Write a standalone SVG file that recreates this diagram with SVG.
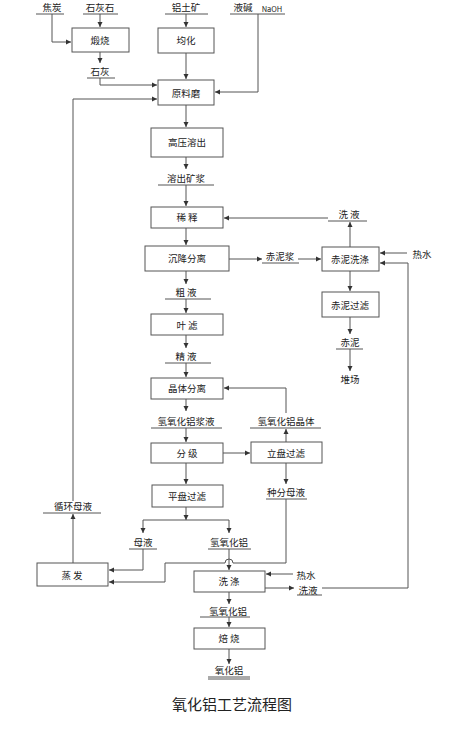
<svg xmlns="http://www.w3.org/2000/svg" width="474" height="734" viewBox="0 0 474 734">
<style>
.b{fill:#fff;stroke:#555;stroke-width:1}
.u{stroke:#555;stroke-width:1}
.c{fill:none;stroke:#555;stroke-width:1}
text{font-family:"Noto Sans CJK SC","Liberation Sans",sans-serif;font-size:9.5px;fill:#222;text-anchor:middle;dominant-baseline:central}
.t{font-size:15px}
.s{font-size:7.5px}
</style>
<defs>
<marker id="a" markerWidth="6" markerHeight="6" refX="5" refY="3" orient="auto" markerUnits="userSpaceOnUse">
<path d="M0,0.5 L5,3 L0,5.5 Z" fill="#333"/>
</marker>
</defs>
<rect width="474" height="734" fill="#fff"/>
<g id="connectors">
<path class="c" d="M52,14 V42 H71" marker-end="url(#a)"/>
<path class="c" d="M100,14 V27" marker-end="url(#a)"/>
<path class="c" d="M100,52 V63" marker-end="url(#a)"/>
<path class="c" d="M100,78 V85 H157" marker-end="url(#a)"/>
<path class="c" d="M186,14 V27" marker-end="url(#a)"/>
<path class="c" d="M186,53 V79" marker-end="url(#a)"/>
<path class="c" d="M258,14 V92 H215" marker-end="url(#a)"/>
<path class="c" d="M73,501 V99 H157" marker-end="url(#a)"/>
<path class="c" d="M186,105 V127" marker-end="url(#a)"/>
<path class="c" d="M186,157 V169" marker-end="url(#a)"/>
<path class="c" d="M186,185 V206" marker-end="url(#a)"/>
<path class="c" d="M328,218 H224" marker-end="url(#a)"/>
<path class="c" d="M350,247 V222" marker-end="url(#a)"/>
<path class="c" d="M186,228 V245" marker-end="url(#a)"/>
<path class="c" d="M229,259 H262" marker-end="url(#a)"/>
<path class="c" d="M298,259 H321" marker-end="url(#a)"/>
<path class="c" d="M407,253 H380" marker-end="url(#a)"/>
<path class="c" d="M322,588 H408 V263 H380" marker-end="url(#a)"/>
<path class="c" d="M350,271 V291" marker-end="url(#a)"/>
<path class="c" d="M350,317 V334" marker-end="url(#a)"/>
<path class="c" d="M350,349 V371" marker-end="url(#a)"/>
<path class="c" d="M186,271 V284" marker-end="url(#a)"/>
<path class="c" d="M186,299 V313" marker-end="url(#a)"/>
<path class="c" d="M186,335 V348" marker-end="url(#a)"/>
<path class="c" d="M186,363 V377" marker-end="url(#a)"/>
<path class="c" d="M186,399 V411" marker-end="url(#a)"/>
<path class="c" d="M286,413 V388 H224" marker-end="url(#a)"/>
<path class="c" d="M186,428 V442" marker-end="url(#a)"/>
<path class="c" d="M223,453 H250" marker-end="url(#a)"/>
<path class="c" d="M286,442 V429" marker-end="url(#a)"/>
<path class="c" d="M286,463 V484" marker-end="url(#a)"/>
<path class="c" d="M186,463 V484" marker-end="url(#a)"/>
<path class="c" d="M186,507 V520" marker-end="url(#a)"/>
<path class="c" d="M143,520 H229"/>
<path class="c" d="M143,520 V533" marker-end="url(#a)"/>
<path class="c" d="M229,520 V533" marker-end="url(#a)"/>
<path class="c" d="M143,549 V570 H109" marker-end="url(#a)"/>
<path class="c" d="M286,499 V563 H233 A4,4 0 0 0 225,563 H165 V582 H109" marker-end="url(#a)"/>
<path class="c" d="M229,549 V570" marker-end="url(#a)"/>
<path class="c" d="M73,563 V514" marker-end="url(#a)"/>
<path class="c" d="M293,574 H266" marker-end="url(#a)"/>
<path class="c" d="M265,588 H294" marker-end="url(#a)"/>
<path class="c" d="M229,592 V604" marker-end="url(#a)"/>
<path class="c" d="M229,617 V627" marker-end="url(#a)"/>
<path class="c" d="M229,649 V664" marker-end="url(#a)"/>
</g>
<g id="l-jiaotan"><text x="52" y="7">焦炭</text><line class="u" x1="36" y1="14" x2="64" y2="14"/></g>
<g id="l-shihuishi"><text x="100" y="7">石灰石</text><line class="u" x1="83" y1="14" x2="118" y2="14"/></g>
<g id="l-lvtukuang"><text x="186" y="7">铝土矿</text><line class="u" x1="165" y1="14" x2="208" y2="14"/></g>
<g id="l-yejian"><text x="243" y="7">液碱</text><text class="s" x="272" y="8">NaOH</text><line class="u" x1="230" y1="14" x2="285" y2="14"/></g>
<g id="n-duanshao"><rect class="b" x="72" y="28" width="57" height="24"/><text x="100" y="40">煅烧</text></g>
<g id="n-junhua"><rect class="b" x="158" y="28" width="56" height="25"/><text x="186" y="40">均化</text></g>
<g id="l-shihui"><text x="100" y="71">石灰</text><line class="u" x1="87" y1="78" x2="115" y2="78"/></g>
<g id="n-yuanliaomo"><rect class="b" x="158" y="80" width="56" height="25"/><text x="186" y="93">原料磨</text></g>
<g id="n-gaoya"><rect class="b" x="151" y="128" width="72" height="29"/><text x="187" y="142">高压溶出</text></g>
<g id="l-rongchu"><text x="186" y="178">溶出矿浆</text><line class="u" x1="158" y1="185" x2="214" y2="185"/></g>
<g id="n-xishi"><rect class="b" x="151" y="207" width="72" height="21"/><text x="187" y="217">稀 释</text></g>
<g id="l-xiye1"><text x="349" y="214">洗 液</text><line class="u" x1="328" y1="221" x2="367" y2="221"/></g>
<g id="n-chenjiang"><rect class="b" x="145" y="246" width="84" height="25"/><text x="187" y="258">沉降分离</text></g>
<g id="l-chinijiang"><text x="280" y="256">赤泥浆</text><line class="u" x1="262" y1="263" x2="299" y2="263"/></g>
<g id="n-chinixidi"><rect class="b" x="322" y="247" width="57" height="24"/><text x="350" y="259">赤泥洗涤</text></g>
<g id="l-reshui1"><text x="422" y="254">热水</text></g>
<g id="n-chiniguolv"><rect class="b" x="322" y="292" width="57" height="25"/><text x="350" y="305">赤泥过滤</text></g>
<g id="l-chini"><text x="350" y="342">赤泥</text><line class="u" x1="336" y1="349" x2="363" y2="349"/></g>
<g id="l-duichang"><text x="350" y="379">堆场</text></g>
<g id="l-cuye"><text x="186" y="292">粗 液</text><line class="u" x1="165" y1="299" x2="211" y2="299"/></g>
<g id="n-yelv"><rect class="b" x="151" y="314" width="72" height="21"/><text x="187" y="325">叶 滤</text></g>
<g id="l-jingye"><text x="186" y="356">精 液</text><line class="u" x1="165" y1="363" x2="211" y2="363"/></g>
<g id="n-jingti"><rect class="b" x="151" y="378" width="72" height="21"/><text x="187" y="388">晶体分离</text></g>
<g id="l-jiangye"><text x="186" y="421">氢氧化铝浆液</text><line class="u" x1="151" y1="428" x2="222" y2="428"/></g>
<g id="l-jingtiL"><text x="286" y="421">氢氧化铝晶体</text><line class="u" x1="250" y1="428" x2="321" y2="428"/></g>
<g id="n-fenji"><rect class="b" x="151" y="443" width="72" height="20"/><text x="187" y="453">分 级</text></g>
<g id="n-lipan"><rect class="b" x="251" y="442" width="71" height="21"/><text x="286" y="453">立盘过滤</text></g>
<g id="l-zhongfen"><text x="286" y="492">种分母液</text><line class="u" x1="266" y1="499" x2="307" y2="499"/></g>
<g id="n-pingpan"><rect class="b" x="152" y="485" width="71" height="22"/><text x="187" y="496">平盘过滤</text></g>
<g id="l-xunhuan"><text x="73" y="506">循环母液</text><line class="u" x1="43" y1="513" x2="101" y2="513"/></g>
<g id="l-muye"><text x="143" y="542">母液</text><line class="u" x1="129" y1="549" x2="157" y2="549"/></g>
<g id="l-qylv1"><text x="229" y="542">氢氧化铝</text><line class="u" x1="208" y1="549" x2="251" y2="549"/></g>
<g id="n-zhengfa"><rect class="b" x="37" y="563" width="71" height="23"/><text x="72" y="575">蒸 发</text></g>
<g id="n-xidi"><rect class="b" x="194" y="571" width="71" height="21"/><text x="229" y="581">洗 涤</text></g>
<g id="l-reshui2"><text x="306" y="575">热水</text></g>
<g id="l-xiye2"><text x="308" y="590">洗液</text><line class="u" x1="297" y1="595" x2="322" y2="595"/></g>
<g id="l-qylv2"><text x="228" y="611">氢氧化铝</text><line class="u" x1="200" y1="617" x2="250" y2="617"/></g>
<g id="n-beishao"><rect class="b" x="194" y="628" width="71" height="21"/><text x="229" y="638">焙 烧</text></g>
<g id="l-yanghualv"><text x="229" y="670">氧化铝</text><line class="u" x1="208" y1="677" x2="250" y2="677"/><line class="u" x1="208" y1="679" x2="250" y2="679"/></g>
<g id="title"><text class="t" x="232" y="703">氧化铝工艺流程图</text></g>
</svg>
